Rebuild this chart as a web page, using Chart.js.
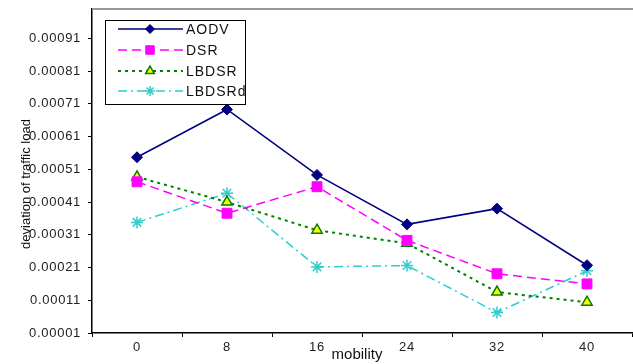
<!DOCTYPE html>
<html>
<head>
<meta charset="utf-8">
<script src="https://cdn.jsdelivr.net/npm/chart.js@4.4.1/dist/chart.umd.min.js"></script>
<style>
  html, body { margin: 0; padding: 0; background: #fff; overflow: hidden; }
  #wrap { width: 640px; height: 364px; }
</style>
</head>
<body>
<div id="wrap"><canvas id="chart" width="640" height="364"></canvas></div>
<script>
const mobility = ["0", "8", "16", "24", "32", "40"];
const yTicks = [0.00001, 0.00011, 0.00021, 0.00031, 0.00041, 0.00051, 0.00061, 0.00071, 0.00081, 0.00091];

const aodv = [0.000547, 0.000693, 0.000493, 0.000342, 0.00039, 0.000217];
const dsr = [0.000472, 0.000376, 0.000457, 0.000293, 0.000191, 0.00016];
const lbdsr = [0.000487, 0.00041, 0.000324, 0.000284, 0.000135, 0.000104];
const lbdsrd = [0.000348, 0.000437, 0.000212, 0.000216, 0.0000724, 0.0002];

const FONT = "'Liberation Sans', Arial, sans-serif";

// the source chart's text is slightly letter-spaced
const spacing = {
  id: "spacing",
  beforeLayout(chart) { chart.ctx.letterSpacing = "0.7px"; },
  beforeDraw(chart) { chart.ctx.letterSpacing = "0.7px"; }
};

// legend box + axis titles + top border
const decorations = {
  id: "decorations",
  afterDraw(chart) {
    const ctx = chart.ctx;
    const area = chart.chartArea;
    ctx.save();

    // grey top border of plot
    ctx.strokeStyle = "#999";
    ctx.lineWidth = 2;
    ctx.beginPath();
    ctx.moveTo(area.left, area.top);
    ctx.lineTo(chart.width, area.top);
    ctx.stroke();

    // axis titles
    ctx.fillStyle = "#111";
    ctx.font = "15px " + FONT;
    ctx.letterSpacing = "0px";
    ctx.textAlign = "center";
    ctx.textBaseline = "middle";
    ctx.fillText("mobility", 357, 355);

    ctx.save();
    ctx.translate(26, 184);
    ctx.rotate(-Math.PI / 2);
    ctx.font = "13px " + FONT;
    ctx.fillText("deviation of traffic load", 0, 0);
    ctx.restore();

    // legend
    ctx.fillStyle = "#fff";
    ctx.fillRect(105, 20, 140, 84);
    ctx.strokeStyle = "#000";
    ctx.lineWidth = 1;
    ctx.strokeRect(105.5, 20.5, 140, 84);

    const rows = [29, 50, 71, 91];
    chart.data.datasets.forEach((ds, i) => {
      const y = rows[i];
      ctx.strokeStyle = ds.borderColor;
      ctx.lineWidth = ds.borderWidth;
      ctx.setLineDash(ds.borderDash || []);
      ctx.beginPath();
      ctx.moveTo(118, y);
      ctx.lineTo(183, y);
      ctx.stroke();
      ctx.setLineDash([]);
      ctx.fillStyle = ds.pointBackgroundColor;
      ctx.strokeStyle = ds.pointBorderColor;
      ctx.lineWidth = ds.pointBorderWidth;
      Chart.helpers.drawPoint(ctx, {
        pointStyle: ds.pointStyle,
        radius: ds.pointRadius - 1,
        rotation: 0,
        borderWidth: ds.pointBorderWidth
      }, 150, y);
      ctx.fillStyle = "#111";
      ctx.font = "14px " + FONT;
      ctx.letterSpacing = "1px";
      ctx.textAlign = "left";
      ctx.textBaseline = "middle";
      ctx.fillText(ds.label, 186, y + 1);
    });

    ctx.restore();
  }
};

new Chart(document.getElementById("chart"), {
  type: "line",
  data: {
    labels: mobility,
    datasets: [
      {
        label: "AODV",
        data: aodv,
        borderColor: "#000080",
        borderWidth: 1.5,
        pointStyle: "rectRot",
        pointRadius: 5.5,
        pointBackgroundColor: "#000080",
        pointBorderColor: "#000080",
        pointBorderWidth: 1
      },
      {
        label: "DSR",
        data: dsr,
        borderColor: "#ff00ff",
        borderWidth: 1.5,
        borderDash: [9, 5],
        pointStyle: "rect",
        pointRadius: 7,
        pointBackgroundColor: "#ff00ff",
        pointBorderColor: "#ff00ff",
        pointBorderWidth: 1
      },
      {
        label: "LBDSR",
        data: lbdsr,
        borderColor: "#008000",
        borderWidth: 2,
        borderDash: [3, 4],
        pointStyle: "triangle",
        pointRadius: 6,
        pointBackgroundColor: "#ffff00",
        pointBorderColor: "#008000",
        pointBorderWidth: 1.5
      },
      {
        label: "LBDSRd",
        data: lbdsrd,
        borderColor: "#33cccc",
        borderWidth: 1.5,
        borderDash: [9, 4, 2, 4],
        pointStyle: "star",
        pointRadius: 6,
        pointBackgroundColor: "#33cccc",
        pointBorderColor: "#33cccc",
        pointBorderWidth: 1.5
      }
    ]
  },
  options: {
    responsive: false,
    animation: false,
    layout: { padding: { top: 9, right: 4, left: 0, bottom: 0 } },
    plugins: { legend: { display: false }, tooltip: { enabled: false } },
    scales: {
      x: {
        offset: true,
        grid: { drawOnChartArea: false, drawTicks: true, tickLength: 4, color: "#000", offset: true },
        border: { color: "#000", width: 1.5 },
        ticks: { color: "#222", font: { family: FONT, size: 13 }, padding: 3, maxRotation: 0 },
        afterFit(scale) {
          scale.height = 31;
          scale.paddingLeft = 0;
          scale.paddingRight = 0;
        }
      },
      y: {
        min: 0.00001,
        max: 0.001,
        afterBuildTicks(scale) { scale.ticks = yTicks.map(v => ({ value: v })); },
        grid: { drawOnChartArea: false, drawTicks: true, tickLength: 4, color: "#000" },
        border: { color: "#000", width: 1.5 },
        ticks: {
          color: "#222",
          font: { family: FONT, size: 13 },
          padding: 7,
          callback: (v) => v.toFixed(5)
        },
        afterFit(scale) {
          scale.width = 92;
          scale.paddingTop = 0;
          scale.paddingBottom = 0;
        }
      }
    }
  },
  plugins: [spacing, decorations]
});
</script>
</body>
</html>
